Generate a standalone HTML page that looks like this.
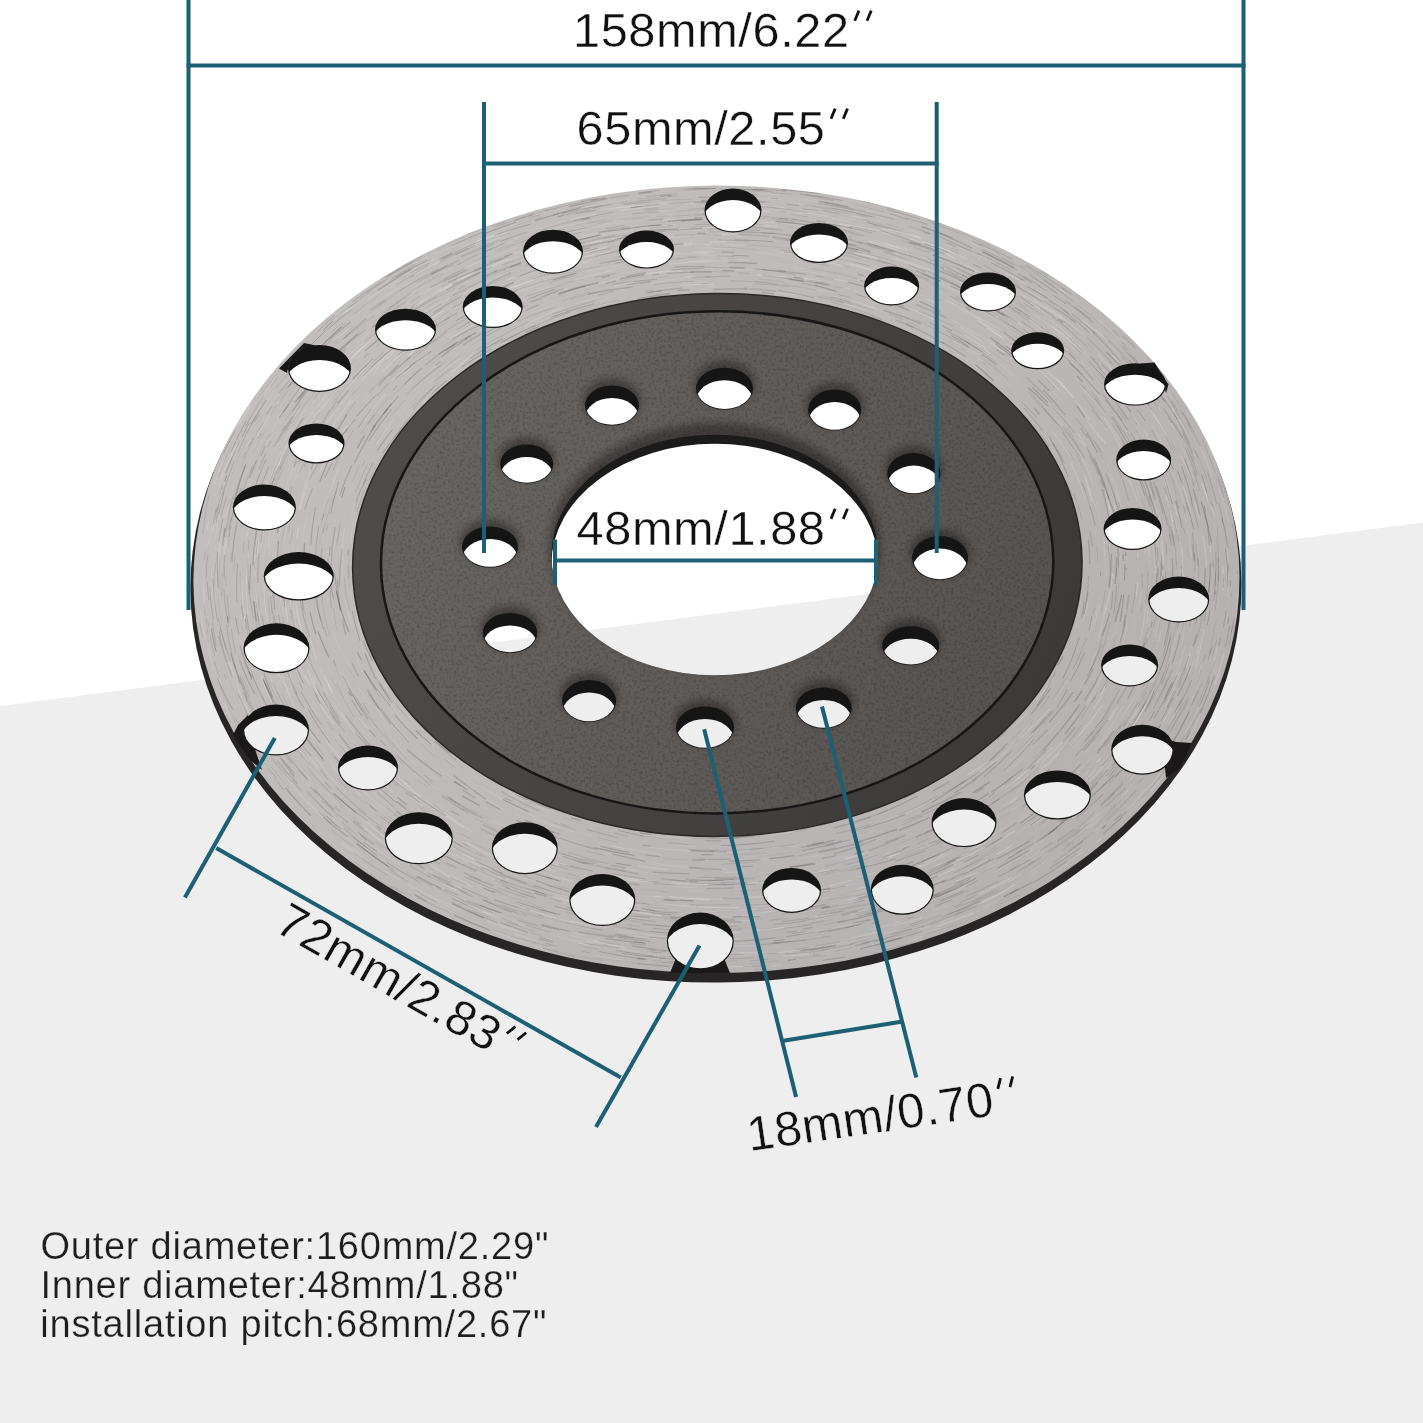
<!DOCTYPE html>
<html><head><meta charset="utf-8"><style>html,body{margin:0;padding:0;background:#fff;overflow:hidden}svg{display:block;will-change:transform}</style></head>
<body><svg width="1423" height="1423" viewBox="0 0 1423 1423">
<defs>
<clipPath id="c0"><ellipse cx="733.00" cy="222.00" rx="31.35" ry="22.00" /></clipPath><clipPath id="c1"><ellipse cx="819.00" cy="254.50" rx="31.90" ry="20.00" /></clipPath><clipPath id="c2"><ellipse cx="646.50" cy="261.10" rx="30.25" ry="19.00" /></clipPath><clipPath id="c3"><ellipse cx="553.00" cy="263.20" rx="33.00" ry="22.00" /></clipPath><clipPath id="c4"><ellipse cx="891.60" cy="297.50" rx="30.25" ry="19.50" /></clipPath><clipPath id="c5"><ellipse cx="988.00" cy="303.50" rx="30.80" ry="19.50" /></clipPath><clipPath id="c6"><ellipse cx="492.70" cy="318.50" rx="33.00" ry="21.00" /></clipPath><clipPath id="c7"><ellipse cx="405.50" cy="341.20" rx="33.55" ry="21.00" /></clipPath><clipPath id="c8"><ellipse cx="319.50" cy="383.50" rx="34.65" ry="23.50" /></clipPath><clipPath id="c9"><ellipse cx="1037.70" cy="362.30" rx="29.15" ry="18.50" /></clipPath><clipPath id="c10"><ellipse cx="1135.00" cy="395.90" rx="34.10" ry="21.20" /></clipPath><clipPath id="c11"><ellipse cx="316.50" cy="455.00" rx="30.80" ry="20.00" /></clipPath><clipPath id="c12"><ellipse cx="1143.70" cy="471.50" rx="30.25" ry="20.50" /></clipPath><clipPath id="c13"><ellipse cx="264.40" cy="519.00" rx="34.65" ry="23.00" /></clipPath><clipPath id="c14"><ellipse cx="1132.60" cy="540.50" rx="31.90" ry="21.00" /></clipPath><clipPath id="c15"><ellipse cx="298.80" cy="587.80" rx="38.50" ry="24.25" /></clipPath><clipPath id="c16"><ellipse cx="1178.70" cy="611.00" rx="33.55" ry="23.00" /></clipPath><clipPath id="c17"><ellipse cx="276.50" cy="659.80" rx="36.30" ry="25.00" /></clipPath><clipPath id="c18"><ellipse cx="1129.60" cy="676.90" rx="31.35" ry="21.00" /></clipPath><clipPath id="c19"><ellipse cx="276.00" cy="741.50" rx="36.30" ry="25.50" /></clipPath><clipPath id="c20"><ellipse cx="1142.50" cy="761.25" rx="34.43" ry="25.00" /></clipPath><clipPath id="c21"><ellipse cx="368.00" cy="779.50" rx="33.00" ry="22.50" /></clipPath><clipPath id="c22"><ellipse cx="1057.40" cy="806.50" rx="36.85" ry="24.50" /></clipPath><clipPath id="c23"><ellipse cx="418.80" cy="849.80" rx="37.40" ry="26.00" /></clipPath><clipPath id="c24"><ellipse cx="964.00" cy="834.10" rx="35.75" ry="24.50" /></clipPath><clipPath id="c25"><ellipse cx="524.80" cy="859.70" rx="36.30" ry="26.00" /></clipPath><clipPath id="c26"><ellipse cx="602.30" cy="911.50" rx="36.30" ry="26.00" /></clipPath><clipPath id="c27"><ellipse cx="791.60" cy="901.90" rx="32.45" ry="22.50" /></clipPath><clipPath id="c28"><ellipse cx="902.30" cy="901.30" rx="34.65" ry="25.00" /></clipPath><clipPath id="c29"><ellipse cx="700.30" cy="952.50" rx="36.85" ry="28.50" /></clipPath><clipPath id="c30"><ellipse cx="724.50" cy="401.20" rx="28.50" ry="21.00" /></clipPath><clipPath id="c31"><ellipse cx="612.00" cy="418.10" rx="27.00" ry="20.00" /></clipPath><clipPath id="c32"><ellipse cx="834.70" cy="422.50" rx="26.50" ry="20.50" /></clipPath><clipPath id="c33"><ellipse cx="526.70" cy="476.50" rx="26.50" ry="19.50" /></clipPath><clipPath id="c34"><ellipse cx="913.80" cy="486.10" rx="26.50" ry="20.50" /></clipPath><clipPath id="c35"><ellipse cx="490.00" cy="559.50" rx="28.00" ry="20.50" /></clipPath><clipPath id="c36"><ellipse cx="940.00" cy="570.50" rx="28.00" ry="22.00" /></clipPath><clipPath id="c37"><ellipse cx="510.00" cy="645.50" rx="27.25" ry="20.00" /></clipPath><clipPath id="c38"><ellipse cx="910.70" cy="658.30" rx="28.50" ry="19.50" /></clipPath><clipPath id="c39"><ellipse cx="589.00" cy="713.50" rx="27.00" ry="21.00" /></clipPath><clipPath id="c40"><ellipse cx="705.00" cy="740.00" rx="29.00" ry="21.00" /></clipPath><clipPath id="c41"><ellipse cx="823.80" cy="720.50" rx="28.00" ry="20.50" /></clipPath><clipPath id="c42"><ellipse cx="714.90" cy="564.00" rx="163.50" ry="120.25" /></clipPath>
<mask id="m" maskUnits="userSpaceOnUse" x="0" y="0" width="1423" height="1423">
<rect width="1423" height="1423" fill="#fff"/>
<ellipse clip-path="url(#c0)" cx="733.00" cy="210.50" rx="27.30" ry="20.80" fill="#000"/><ellipse clip-path="url(#c1)" cx="819.00" cy="243.00" rx="27.80" ry="18.80" fill="#000"/><ellipse clip-path="url(#c2)" cx="646.50" cy="249.60" rx="26.30" ry="17.80" fill="#000"/><ellipse clip-path="url(#c3)" cx="553.00" cy="251.70" rx="28.80" ry="20.80" fill="#000"/><ellipse clip-path="url(#c4)" cx="891.60" cy="286.00" rx="26.30" ry="18.30" fill="#000"/><ellipse clip-path="url(#c5)" cx="988.00" cy="292.00" rx="26.80" ry="18.30" fill="#000"/><ellipse clip-path="url(#c6)" cx="492.70" cy="307.00" rx="28.80" ry="19.80" fill="#000"/><ellipse clip-path="url(#c7)" cx="405.50" cy="329.70" rx="29.30" ry="19.80" fill="#000"/><ellipse clip-path="url(#c8)" cx="319.50" cy="368.50" rx="30.30" ry="22.30" fill="#000"/><ellipse clip-path="url(#c9)" cx="1037.70" cy="350.80" rx="25.30" ry="17.30" fill="#000"/><ellipse clip-path="url(#c10)" cx="1135.00" cy="384.40" rx="29.80" ry="20.00" fill="#000"/><ellipse clip-path="url(#c11)" cx="316.50" cy="443.50" rx="26.80" ry="18.80" fill="#000"/><ellipse clip-path="url(#c12)" cx="1143.70" cy="460.00" rx="26.30" ry="19.30" fill="#000"/><ellipse clip-path="url(#c13)" cx="264.40" cy="507.50" rx="30.30" ry="21.80" fill="#000"/><ellipse clip-path="url(#c14)" cx="1132.60" cy="529.00" rx="27.80" ry="19.80" fill="#000"/><ellipse clip-path="url(#c15)" cx="298.80" cy="576.30" rx="33.80" ry="23.05" fill="#000"/><ellipse clip-path="url(#c16)" cx="1178.70" cy="599.50" rx="29.30" ry="21.80" fill="#000"/><ellipse clip-path="url(#c17)" cx="276.50" cy="648.30" rx="31.80" ry="23.80" fill="#000"/><ellipse clip-path="url(#c18)" cx="1129.60" cy="665.40" rx="27.30" ry="19.80" fill="#000"/><ellipse clip-path="url(#c19)" cx="276.00" cy="730.00" rx="31.80" ry="24.30" fill="#000"/><ellipse clip-path="url(#c20)" cx="1142.50" cy="749.75" rx="30.10" ry="23.80" fill="#000"/><ellipse clip-path="url(#c21)" cx="368.00" cy="768.00" rx="28.80" ry="21.30" fill="#000"/><ellipse clip-path="url(#c22)" cx="1057.40" cy="795.00" rx="32.30" ry="23.30" fill="#000"/><ellipse clip-path="url(#c23)" cx="418.80" cy="838.30" rx="32.80" ry="24.80" fill="#000"/><ellipse clip-path="url(#c24)" cx="964.00" cy="822.60" rx="31.30" ry="23.30" fill="#000"/><ellipse clip-path="url(#c25)" cx="524.80" cy="848.20" rx="31.80" ry="24.80" fill="#000"/><ellipse clip-path="url(#c26)" cx="602.30" cy="900.00" rx="31.80" ry="24.80" fill="#000"/><ellipse clip-path="url(#c27)" cx="791.60" cy="890.40" rx="28.30" ry="21.30" fill="#000"/><ellipse clip-path="url(#c28)" cx="902.30" cy="889.80" rx="30.30" ry="23.80" fill="#000"/><ellipse clip-path="url(#c29)" cx="700.30" cy="941.00" rx="32.30" ry="27.30" fill="#000"/><ellipse clip-path="url(#c30)" cx="724.50" cy="388.70" rx="27.70" ry="20.20" fill="#000"/><ellipse clip-path="url(#c31)" cx="612.00" cy="405.60" rx="26.20" ry="19.20" fill="#000"/><ellipse clip-path="url(#c32)" cx="834.70" cy="410.00" rx="25.70" ry="19.70" fill="#000"/><ellipse clip-path="url(#c33)" cx="526.70" cy="464.00" rx="25.70" ry="18.70" fill="#000"/><ellipse clip-path="url(#c34)" cx="913.80" cy="473.60" rx="25.70" ry="19.70" fill="#000"/><ellipse clip-path="url(#c35)" cx="490.00" cy="547.00" rx="27.20" ry="19.70" fill="#000"/><ellipse clip-path="url(#c36)" cx="940.00" cy="558.00" rx="27.20" ry="21.20" fill="#000"/><ellipse clip-path="url(#c37)" cx="510.00" cy="633.00" rx="26.45" ry="19.20" fill="#000"/><ellipse clip-path="url(#c38)" cx="910.70" cy="645.80" rx="27.70" ry="18.70" fill="#000"/><ellipse clip-path="url(#c39)" cx="589.00" cy="701.00" rx="26.20" ry="20.20" fill="#000"/><ellipse clip-path="url(#c40)" cx="705.00" cy="727.50" rx="28.20" ry="20.20" fill="#000"/><ellipse clip-path="url(#c41)" cx="823.80" cy="708.00" rx="27.20" ry="19.70" fill="#000"/><ellipse clip-path="url(#c42)" cx="714.90" cy="555.00" rx="163.50" ry="120.25" fill="#000"/>
</mask>
<linearGradient id="hubg" gradientUnits="userSpaceOnUse" x1="380" y1="420" x2="1060" y2="720"><stop offset="0" stop-color="#6a6664"/><stop offset="1" stop-color="#555250"/></linearGradient>
<linearGradient id="bandg" gradientUnits="userSpaceOnUse" x1="360" y1="420" x2="1080" y2="720"><stop offset="0" stop-color="#4f4c4b"/><stop offset="1" stop-color="#3b3938"/></linearGradient>
<linearGradient id="surfg" gradientUnits="userSpaceOnUse" x1="250" y1="250" x2="1150" y2="950"><stop offset="0" stop-color="#c3bfbe"/><stop offset="0.5" stop-color="#bdb9b8"/><stop offset="1" stop-color="#b3afae"/></linearGradient>
<clipPath id="surfclip"><ellipse cx="716.43" cy="579.35" rx="523.04" ry="393.75" transform="rotate(-0.38 716.43 579.35)" /></clipPath>
<clipPath id="hubclip"><ellipse cx="717.11" cy="562.36" rx="336.13" ry="251.06" transform="rotate(-0.4 717.11 562.36)" /></clipPath>
<filter id="brush" x="0" y="0" width="100%" height="100%" filterUnits="objectBoundingBox" color-interpolation-filters="sRGB">
<feTurbulence type="fractalNoise" baseFrequency="0.006 0.45" numOctaves="3" seed="7" result="n"/>
<feColorMatrix in="n" type="matrix" values="0 0 0 0 0  0 0 0 0 0  0 0 0 0 0  -3 0 0 0 1.6"/>
</filter>
<filter id="brush2" x="0" y="0" width="100%" height="100%" filterUnits="objectBoundingBox" color-interpolation-filters="sRGB">
<feTurbulence type="fractalNoise" baseFrequency="0.008 0.35" numOctaves="2" seed="11" result="n"/>
<feColorMatrix in="n" type="matrix" values="0 0 0 0 1  0 0 0 0 1  0 0 0 0 1  3 0 0 0 -1.55"/>
</filter>
<filter id="blur4" x="-20%" y="-20%" width="140%" height="140%"><feGaussianBlur stdDeviation="4"/></filter>
<filter id="speck" x="0" y="0" width="100%" height="100%" filterUnits="objectBoundingBox" color-interpolation-filters="sRGB">
<feTurbulence type="fractalNoise" baseFrequency="0.35" numOctaves="2" seed="5" result="n"/>
<feColorMatrix in="n" type="matrix" values="0 0 0 0 0  0 0 0 0 0  0 0 0 0 0  -2.5 0 0 0 1.35"/>
</filter>
</defs>
<rect width="1423" height="1423" fill="#fff"/>
<polygon points="0,706 1423,522.5 1423,1423 0,1423" fill="#eeeeee"/>
<g mask="url(#m)">
<ellipse cx="715.93" cy="586.35" rx="525.54" ry="396.25" transform="rotate(-0.38 715.93 586.35)" fill="#272525"/>
<ellipse cx="716.43" cy="579.35" rx="523.04" ry="393.75" transform="rotate(-0.38 716.43 579.35)" fill="url(#surfg)"/>
<g clip-path="url(#surfclip)">
<ellipse cx="724.77" cy="577.76" rx="437.71" ry="329.51" fill="none" stroke="#fff" stroke-opacity="0.068" stroke-width="1.24" stroke-dasharray="15 127 6 125 36 100 35 88 41 30 45 67 34 124 16 116" stroke-dashoffset="76"/><ellipse cx="732.83" cy="578.88" rx="444.23" ry="334.42" fill="none" stroke="#000" stroke-opacity="0.070" stroke-width="1.05" stroke-dasharray="11 34 9 160 20 53 33 143 13 138 14 110 45 71 9 73" stroke-dashoffset="684"/><ellipse cx="715.63" cy="569.42" rx="458.03" ry="344.81" fill="none" stroke="#000" stroke-opacity="0.106" stroke-width="1.27" stroke-dasharray="7 51 18 96 28 122 30 109 13 94 21 115 29 125 38 158" stroke-dashoffset="33"/><ellipse cx="702.97" cy="569.81" rx="445.15" ry="335.11" fill="none" stroke="#000" stroke-opacity="0.104" stroke-width="0.81" stroke-dasharray="30 82 44 56 41 86 17 49 23 39 33 100 37 118 44 43" stroke-dashoffset="466"/><ellipse cx="739.83" cy="571.11" rx="438.00" ry="329.73" fill="none" stroke="#fff" stroke-opacity="0.198" stroke-width="1.40" stroke-dasharray="16 148 41 123 17 78 20 31 23 117 17 91 6 158 8 93" stroke-dashoffset="515"/><ellipse cx="738.57" cy="580.76" rx="384.19" ry="289.22" fill="none" stroke="#fff" stroke-opacity="0.132" stroke-width="1.13" stroke-dasharray="23 60 20 158 36 155 28 97 34 71 34 104 45 41 23 114" stroke-dashoffset="721"/><ellipse cx="728.31" cy="577.25" rx="490.86" ry="369.52" fill="none" stroke="#000" stroke-opacity="0.071" stroke-width="0.86" stroke-dasharray="7 30 7 63 41 98 32 65 21 81 33 150 9 96 8 136" stroke-dashoffset="203"/><ellipse cx="709.18" cy="568.60" rx="455.39" ry="342.82" fill="none" stroke="#fff" stroke-opacity="0.156" stroke-width="0.99" stroke-dasharray="30 71 7 69 7 39 10 136 40 81 30 55 28 78 25 99" stroke-dashoffset="637"/><ellipse cx="702.37" cy="577.36" rx="460.57" ry="346.72" fill="none" stroke="#000" stroke-opacity="0.119" stroke-width="0.90" stroke-dasharray="31 92 10 134 28 112 11 115 15 53 25 109 17 141 29 75" stroke-dashoffset="183"/><ellipse cx="721.99" cy="564.00" rx="367.77" ry="276.86" fill="none" stroke="#000" stroke-opacity="0.133" stroke-width="1.26" stroke-dasharray="26 54 20 31 29 123 23 81 33 105 20 67 38 115 16 158" stroke-dashoffset="255"/><ellipse cx="731.18" cy="555.33" rx="435.30" ry="327.70" fill="none" stroke="#000" stroke-opacity="0.117" stroke-width="1.22" stroke-dasharray="20 134 40 131 39 142 9 57 41 109 28 34 26 157 29 108" stroke-dashoffset="137"/><ellipse cx="694.40" cy="579.38" rx="400.44" ry="301.45" fill="none" stroke="#000" stroke-opacity="0.152" stroke-width="0.94" stroke-dasharray="24 134 44 102 30 112 15 62 22 38 44 126 32 138 45 97" stroke-dashoffset="409"/><ellipse cx="700.72" cy="587.22" rx="494.64" ry="372.37" fill="none" stroke="#000" stroke-opacity="0.146" stroke-width="0.77" stroke-dasharray="22 58 23 43 28 108 14 109 19 36 41 108 8 33 16 80" stroke-dashoffset="194"/><ellipse cx="730.11" cy="580.97" rx="522.56" ry="393.39" fill="none" stroke="#000" stroke-opacity="0.161" stroke-width="1.27" stroke-dasharray="7 56 29 157 40 81 34 55 39 31 14 130 38 154 24 149" stroke-dashoffset="529"/><ellipse cx="734.56" cy="547.87" rx="363.00" ry="273.27" fill="none" stroke="#fff" stroke-opacity="0.177" stroke-width="1.34" stroke-dasharray="15 155 29 56 33 133 44 125 10 63 28 45 20 57 33 51" stroke-dashoffset="31"/><ellipse cx="726.49" cy="570.56" rx="377.22" ry="283.98" fill="none" stroke="#000" stroke-opacity="0.075" stroke-width="0.94" stroke-dasharray="7 88 43 151 19 147 27 138 40 110 21 130 11 116 9 122" stroke-dashoffset="139"/><ellipse cx="692.35" cy="564.89" rx="470.27" ry="354.03" fill="none" stroke="#000" stroke-opacity="0.128" stroke-width="1.25" stroke-dasharray="36 141 27 133 26 116 44 127 37 117 18 122 10 89 27 128" stroke-dashoffset="682"/><ellipse cx="728.71" cy="569.95" rx="517.67" ry="389.71" fill="none" stroke="#fff" stroke-opacity="0.144" stroke-width="0.56" stroke-dasharray="32 56 13 156 17 122 41 69 44 100 30 115 25 125 28 114" stroke-dashoffset="639"/><ellipse cx="702.22" cy="564.26" rx="425.19" ry="320.09" fill="none" stroke="#fff" stroke-opacity="0.199" stroke-width="1.11" stroke-dasharray="29 119 15 105 27 115 31 40 39 114 40 48 39 55 22 71" stroke-dashoffset="175"/><ellipse cx="703.03" cy="560.92" rx="491.03" ry="369.65" fill="none" stroke="#000" stroke-opacity="0.093" stroke-width="1.31" stroke-dasharray="20 78 18 100 13 84 43 76 36 109 35 63 36 130 34 149" stroke-dashoffset="201"/><ellipse cx="718.42" cy="576.42" rx="398.32" ry="299.86" fill="none" stroke="#000" stroke-opacity="0.111" stroke-width="1.25" stroke-dasharray="38 116 28 132 25 64 7 49 24 129 24 153 15 137 42 110" stroke-dashoffset="145"/><ellipse cx="698.13" cy="558.52" rx="366.72" ry="276.07" fill="none" stroke="#fff" stroke-opacity="0.078" stroke-width="0.69" stroke-dasharray="16 83 13 127 38 155 25 53 18 67 20 127 39 95 39 123" stroke-dashoffset="564"/><ellipse cx="704.19" cy="549.55" rx="376.41" ry="283.37" fill="none" stroke="#000" stroke-opacity="0.170" stroke-width="0.97" stroke-dasharray="40 143 12 155 45 77 42 44 33 107 7 156 30 121 31 51" stroke-dashoffset="575"/><ellipse cx="740.18" cy="585.71" rx="490.27" ry="369.08" fill="none" stroke="#000" stroke-opacity="0.153" stroke-width="1.11" stroke-dasharray="31 32 38 125 32 66 7 115 10 100 25 86 25 134 23 130" stroke-dashoffset="293"/><ellipse cx="709.90" cy="566.70" rx="467.10" ry="351.64" fill="none" stroke="#000" stroke-opacity="0.077" stroke-width="0.91" stroke-dasharray="11 61 8 59 15 46 44 68 14 158 40 72 17 120 20 133" stroke-dashoffset="466"/><ellipse cx="729.27" cy="586.80" rx="475.63" ry="358.06" fill="none" stroke="#000" stroke-opacity="0.096" stroke-width="1.28" stroke-dasharray="6 103 33 141 19 73 7 120 28 104 12 155 29 136 28 113" stroke-dashoffset="636"/><ellipse cx="736.67" cy="572.15" rx="523.52" ry="394.11" fill="none" stroke="#000" stroke-opacity="0.169" stroke-width="0.78" stroke-dasharray="41 110 14 44 26 91 40 82 13 52 10 74 33 117 23 41" stroke-dashoffset="52"/><ellipse cx="741.13" cy="567.45" rx="463.96" ry="349.28" fill="none" stroke="#000" stroke-opacity="0.146" stroke-width="1.39" stroke-dasharray="36 82 20 47 12 152 37 71 38 81 35 129 27 78 14 73" stroke-dashoffset="117"/><ellipse cx="712.72" cy="556.04" rx="392.04" ry="295.13" fill="none" stroke="#fff" stroke-opacity="0.148" stroke-width="1.10" stroke-dasharray="45 48 26 150 34 53 33 130 18 73 42 75 42 66 11 72" stroke-dashoffset="44"/><ellipse cx="728.64" cy="567.63" rx="397.31" ry="299.10" fill="none" stroke="#000" stroke-opacity="0.126" stroke-width="1.32" stroke-dasharray="14 70 11 147 44 88 15 156 15 100 39 93 39 96 22 50" stroke-dashoffset="558"/><ellipse cx="725.01" cy="575.13" rx="505.29" ry="380.39" fill="none" stroke="#fff" stroke-opacity="0.072" stroke-width="1.09" stroke-dasharray="8 145 39 62 18 141 41 76 9 34 6 61 40 66 31 106" stroke-dashoffset="725"/><ellipse cx="718.36" cy="562.36" rx="498.87" ry="375.56" fill="none" stroke="#fff" stroke-opacity="0.077" stroke-width="1.09" stroke-dasharray="17 105 10 71 31 36 27 32 15 57 11 32 23 124 22 107" stroke-dashoffset="173"/><ellipse cx="731.79" cy="556.71" rx="431.70" ry="324.99" fill="none" stroke="#000" stroke-opacity="0.108" stroke-width="0.64" stroke-dasharray="33 134 29 101 29 57 12 113 23 88 26 95 36 152 27 31" stroke-dashoffset="448"/><ellipse cx="725.45" cy="591.65" rx="514.40" ry="387.24" fill="none" stroke="#000" stroke-opacity="0.098" stroke-width="1.14" stroke-dasharray="31 128 10 53 16 144 16 144 25 106 21 42 6 80 26 156" stroke-dashoffset="178"/><ellipse cx="731.66" cy="575.31" rx="512.56" ry="385.86" fill="none" stroke="#000" stroke-opacity="0.083" stroke-width="0.87" stroke-dasharray="11 114 30 31 26 148 23 120 10 109 27 117 7 57 27 138" stroke-dashoffset="211"/><ellipse cx="727.39" cy="595.90" rx="513.60" ry="386.65" fill="none" stroke="#000" stroke-opacity="0.070" stroke-width="1.18" stroke-dasharray="6 88 24 57 9 66 7 124 40 52 29 83 17 141 45 60" stroke-dashoffset="360"/><ellipse cx="700.81" cy="581.77" rx="498.78" ry="375.48" fill="none" stroke="#fff" stroke-opacity="0.159" stroke-width="1.36" stroke-dasharray="37 116 33 55 17 68 25 143 13 45 7 151 9 43 38 91" stroke-dashoffset="169"/><ellipse cx="723.21" cy="585.93" rx="449.73" ry="338.56" fill="none" stroke="#000" stroke-opacity="0.109" stroke-width="1.07" stroke-dasharray="27 61 8 154 12 45 36 138 43 109 39 153 37 139 43 92" stroke-dashoffset="600"/><ellipse cx="715.60" cy="581.81" rx="359.54" ry="270.67" fill="none" stroke="#fff" stroke-opacity="0.083" stroke-width="1.32" stroke-dasharray="16 89 36 101 39 48 19 67 17 35 16 156 41 139 20 135" stroke-dashoffset="353"/><ellipse cx="719.00" cy="571.63" rx="509.73" ry="383.73" fill="none" stroke="#000" stroke-opacity="0.139" stroke-width="0.97" stroke-dasharray="17 142 17 35 40 56 21 95 32 102 34 116 35 141 10 31" stroke-dashoffset="120"/><ellipse cx="718.91" cy="559.90" rx="447.99" ry="337.25" fill="none" stroke="#fff" stroke-opacity="0.075" stroke-width="1.10" stroke-dasharray="18 45 7 61 33 128 34 37 45 144 30 41 17 119 9 81" stroke-dashoffset="653"/><ellipse cx="710.71" cy="561.66" rx="450.45" ry="339.11" fill="none" stroke="#000" stroke-opacity="0.151" stroke-width="0.84" stroke-dasharray="31 83 26 92 12 70 19 155 44 146 18 70 13 45 11 67" stroke-dashoffset="125"/><ellipse cx="721.83" cy="574.02" rx="442.77" ry="333.33" fill="none" stroke="#fff" stroke-opacity="0.174" stroke-width="0.58" stroke-dasharray="45 140 9 86 15 98 36 144 13 114 24 30 19 91 38 137" stroke-dashoffset="415"/><ellipse cx="717.27" cy="582.73" rx="501.48" ry="377.52" fill="none" stroke="#000" stroke-opacity="0.158" stroke-width="0.84" stroke-dasharray="25 89 15 41 6 144 44 152 8 118 12 32 17 101 43 155" stroke-dashoffset="576"/><ellipse cx="693.57" cy="589.43" rx="457.73" ry="344.58" fill="none" stroke="#fff" stroke-opacity="0.092" stroke-width="1.21" stroke-dasharray="35 122 26 131 20 137 26 59 20 105 36 64 31 106 15 46" stroke-dashoffset="763"/><ellipse cx="735.33" cy="563.91" rx="382.18" ry="287.71" fill="none" stroke="#000" stroke-opacity="0.095" stroke-width="1.28" stroke-dasharray="25 58 43 54 23 141 36 66 21 112 32 81 33 74 17 93" stroke-dashoffset="262"/><ellipse cx="705.36" cy="585.50" rx="441.08" ry="332.05" fill="none" stroke="#fff" stroke-opacity="0.144" stroke-width="1.23" stroke-dasharray="39 80 39 88 18 113 6 32 42 159 13 147 35 74 29 151" stroke-dashoffset="756"/><ellipse cx="719.37" cy="553.46" rx="378.25" ry="284.75" fill="none" stroke="#fff" stroke-opacity="0.099" stroke-width="0.52" stroke-dasharray="38 139 31 136 37 124 26 123 35 108 45 119 45 33 35 74" stroke-dashoffset="546"/><ellipse cx="698.39" cy="577.67" rx="444.10" ry="334.32" fill="none" stroke="#fff" stroke-opacity="0.175" stroke-width="1.28" stroke-dasharray="29 71 15 111 11 159 42 140 20 65 25 100 38 134 6 52" stroke-dashoffset="436"/><ellipse cx="716.61" cy="583.42" rx="472.19" ry="355.47" fill="none" stroke="#fff" stroke-opacity="0.120" stroke-width="0.99" stroke-dasharray="19 126 36 101 34 120 45 86 39 57 43 112 41 51 16 144" stroke-dashoffset="524"/><ellipse cx="717.01" cy="563.95" rx="380.66" ry="286.57" fill="none" stroke="#000" stroke-opacity="0.071" stroke-width="0.96" stroke-dasharray="30 87 21 88 41 149 25 134 22 61 31 129 27 38 19 50" stroke-dashoffset="699"/><ellipse cx="717.70" cy="579.10" rx="396.46" ry="298.46" fill="none" stroke="#000" stroke-opacity="0.121" stroke-width="0.78" stroke-dasharray="8 153 45 88 41 101 41 35 23 31 33 122 42 78 38 32" stroke-dashoffset="677"/><ellipse cx="739.31" cy="586.70" rx="492.70" ry="370.91" fill="none" stroke="#fff" stroke-opacity="0.198" stroke-width="1.31" stroke-dasharray="32 146 37 35 44 147 33 94 30 68 7 142 40 125 31 159" stroke-dashoffset="373"/><ellipse cx="723.07" cy="578.24" rx="449.92" ry="338.70" fill="none" stroke="#000" stroke-opacity="0.152" stroke-width="1.02" stroke-dasharray="38 63 41 33 29 85 9 96 39 106 20 57 44 101 16 33" stroke-dashoffset="136"/><ellipse cx="711.13" cy="553.26" rx="400.40" ry="301.42" fill="none" stroke="#000" stroke-opacity="0.153" stroke-width="1.19" stroke-dasharray="29 94 12 160 20 94 44 148 38 48 38 138 29 73 26 129" stroke-dashoffset="691"/><ellipse cx="718.26" cy="572.71" rx="476.84" ry="358.97" fill="none" stroke="#000" stroke-opacity="0.108" stroke-width="1.08" stroke-dasharray="24 58 6 121 42 55 28 109 22 43 24 88 41 117 41 106" stroke-dashoffset="665"/><ellipse cx="704.74" cy="571.90" rx="416.27" ry="313.37" fill="none" stroke="#fff" stroke-opacity="0.165" stroke-width="0.93" stroke-dasharray="37 57 11 31 27 149 8 46 38 144 6 111 18 114 42 46" stroke-dashoffset="162"/><ellipse cx="734.56" cy="570.58" rx="433.86" ry="326.62" fill="none" stroke="#fff" stroke-opacity="0.092" stroke-width="1.21" stroke-dasharray="30 114 17 141 7 73 44 58 20 48 29 127 9 53 25 146" stroke-dashoffset="266"/><ellipse cx="704.94" cy="585.03" rx="434.21" ry="326.88" fill="none" stroke="#000" stroke-opacity="0.123" stroke-width="0.59" stroke-dasharray="9 76 24 54 18 95 38 109 15 79 28 86 42 92 29 43" stroke-dashoffset="686"/><ellipse cx="697.28" cy="577.38" rx="502.51" ry="378.30" fill="none" stroke="#fff" stroke-opacity="0.105" stroke-width="0.81" stroke-dasharray="38 152 22 112 37 158 22 89 39 97 21 56 10 84 39 77" stroke-dashoffset="4"/><ellipse cx="721.45" cy="553.70" rx="423.29" ry="318.66" fill="none" stroke="#fff" stroke-opacity="0.136" stroke-width="1.37" stroke-dasharray="29 81 34 99 31 65 14 152 35 77 43 75 26 109 12 58" stroke-dashoffset="300"/><ellipse cx="719.83" cy="568.62" rx="462.80" ry="348.40" fill="none" stroke="#fff" stroke-opacity="0.184" stroke-width="1.21" stroke-dasharray="12 34 17 115 28 105 45 103 42 82 18 71 33 108 13 67" stroke-dashoffset="184"/><ellipse cx="720.38" cy="592.40" rx="517.02" ry="389.22" fill="none" stroke="#fff" stroke-opacity="0.116" stroke-width="1.21" stroke-dasharray="38 129 35 130 14 152 15 33 26 37 41 65 9 125 19 106" stroke-dashoffset="169"/><ellipse cx="717.58" cy="573.92" rx="401.77" ry="302.45" fill="none" stroke="#000" stroke-opacity="0.082" stroke-width="0.66" stroke-dasharray="24 57 6 106 16 55 25 59 37 129 25 66 23 48 38 108" stroke-dashoffset="339"/><ellipse cx="704.03" cy="578.07" rx="374.67" ry="282.06" fill="none" stroke="#000" stroke-opacity="0.075" stroke-width="0.54" stroke-dasharray="37 64 29 68 9 152 39 95 44 61 20 128 16 60 9 71" stroke-dashoffset="472"/><ellipse cx="719.26" cy="563.26" rx="391.02" ry="294.37" fill="none" stroke="#fff" stroke-opacity="0.155" stroke-width="0.70" stroke-dasharray="13 77 15 119 27 82 7 47 40 74 28 125 32 95 16 68" stroke-dashoffset="453"/><ellipse cx="699.35" cy="593.28" rx="494.80" ry="372.49" fill="none" stroke="#000" stroke-opacity="0.074" stroke-width="0.65" stroke-dasharray="11 119 45 43 40 33 26 158 37 47 40 126 14 53 22 97" stroke-dashoffset="721"/><ellipse cx="722.70" cy="574.04" rx="407.01" ry="306.40" fill="none" stroke="#000" stroke-opacity="0.109" stroke-width="1.32" stroke-dasharray="34 68 7 100 12 71 39 47 33 148 32 75 8 30 19 85" stroke-dashoffset="538"/><ellipse cx="736.46" cy="561.77" rx="421.31" ry="317.17" fill="none" stroke="#000" stroke-opacity="0.091" stroke-width="1.20" stroke-dasharray="45 42 17 35 43 41 40 108 42 153 11 67 41 63 10 160" stroke-dashoffset="577"/><ellipse cx="722.32" cy="590.97" rx="500.51" ry="376.79" fill="none" stroke="#fff" stroke-opacity="0.158" stroke-width="1.15" stroke-dasharray="30 59 24 84 33 104 27 90 29 152 15 130 9 75 10 63" stroke-dashoffset="143"/><ellipse cx="718.38" cy="571.60" rx="370.16" ry="278.66" fill="none" stroke="#000" stroke-opacity="0.084" stroke-width="1.14" stroke-dasharray="45 31 32 120 10 119 14 82 25 103 15 53 27 56 45 107" stroke-dashoffset="449"/><ellipse cx="715.51" cy="566.93" rx="422.56" ry="318.11" fill="none" stroke="#fff" stroke-opacity="0.174" stroke-width="1.32" stroke-dasharray="36 103 6 123 15 106 15 40 43 92 27 48 8 80 39 119" stroke-dashoffset="253"/><ellipse cx="703.12" cy="560.01" rx="404.24" ry="304.32" fill="none" stroke="#000" stroke-opacity="0.127" stroke-width="0.68" stroke-dasharray="25 79 23 160 23 141 22 117 22 70 39 42 35 117 18 100" stroke-dashoffset="257"/><ellipse cx="710.27" cy="562.65" rx="366.69" ry="276.05" fill="none" stroke="#000" stroke-opacity="0.174" stroke-width="0.53" stroke-dasharray="39 78 33 86 30 160 26 154 8 91 32 57 45 160 10 156" stroke-dashoffset="315"/><ellipse cx="720.02" cy="575.48" rx="402.59" ry="303.07" fill="none" stroke="#000" stroke-opacity="0.068" stroke-width="0.56" stroke-dasharray="6 83 44 91 9 154 12 112 27 159 29 98 34 68 27 62" stroke-dashoffset="586"/><ellipse cx="710.02" cy="567.52" rx="503.06" ry="378.71" fill="none" stroke="#000" stroke-opacity="0.134" stroke-width="1.02" stroke-dasharray="16 88 31 36 21 120 18 134 34 126 13 65 29 87 15 78" stroke-dashoffset="775"/><ellipse cx="700.93" cy="582.77" rx="497.60" ry="374.60" fill="none" stroke="#000" stroke-opacity="0.175" stroke-width="0.53" stroke-dasharray="21 59 15 155 22 150 12 44 29 60 18 102 9 80 18 82" stroke-dashoffset="164"/><ellipse cx="709.90" cy="587.16" rx="518.09" ry="390.03" fill="none" stroke="#000" stroke-opacity="0.159" stroke-width="1.00" stroke-dasharray="39 46 36 143 41 96 36 98 41 54 7 137 16 135 26 140" stroke-dashoffset="445"/><ellipse cx="730.22" cy="571.01" rx="447.24" ry="336.69" fill="none" stroke="#fff" stroke-opacity="0.187" stroke-width="1.24" stroke-dasharray="8 102 43 89 40 95 12 56 44 76 7 57 12 66 40 91" stroke-dashoffset="97"/><ellipse cx="735.87" cy="566.83" rx="488.06" ry="367.42" fill="none" stroke="#000" stroke-opacity="0.110" stroke-width="1.03" stroke-dasharray="22 132 11 59 9 159 28 91 37 133 6 71 11 69 33 84" stroke-dashoffset="144"/><ellipse cx="695.61" cy="560.39" rx="431.30" ry="324.69" fill="none" stroke="#fff" stroke-opacity="0.082" stroke-width="0.61" stroke-dasharray="19 35 22 66 44 52 25 131 18 66 36 156 30 153 17 136" stroke-dashoffset="647"/><ellipse cx="708.73" cy="580.99" rx="397.44" ry="299.20" fill="none" stroke="#fff" stroke-opacity="0.100" stroke-width="0.97" stroke-dasharray="22 139 10 57 34 97 38 40 13 115 15 158 17 132 26 158" stroke-dashoffset="336"/><ellipse cx="734.75" cy="579.83" rx="373.50" ry="281.17" fill="none" stroke="#fff" stroke-opacity="0.137" stroke-width="0.94" stroke-dasharray="42 105 28 35 26 149 13 116 21 142 20 159 9 64 24 82" stroke-dashoffset="312"/><ellipse cx="727.41" cy="593.70" rx="511.63" ry="385.16" fill="none" stroke="#fff" stroke-opacity="0.095" stroke-width="0.80" stroke-dasharray="44 72 31 136 12 48 19 100 26 103 36 153 27 137 16 88" stroke-dashoffset="695"/><ellipse cx="710.57" cy="562.40" rx="362.63" ry="272.99" fill="none" stroke="#000" stroke-opacity="0.167" stroke-width="1.08" stroke-dasharray="45 84 12 73 12 83 22 160 22 88 6 67 24 144 38 53" stroke-dashoffset="524"/><ellipse cx="693.58" cy="571.76" rx="523.85" ry="394.36" fill="none" stroke="#000" stroke-opacity="0.062" stroke-width="1.10" stroke-dasharray="20 56 30 74 37 33 35 103 45 109 33 141 28 35 42 32" stroke-dashoffset="289"/><ellipse cx="729.28" cy="574.25" rx="505.26" ry="380.36" fill="none" stroke="#000" stroke-opacity="0.101" stroke-width="1.32" stroke-dasharray="20 57 9 44 37 151 22 56 36 56 13 65 19 152 22 122" stroke-dashoffset="685"/><ellipse cx="698.96" cy="563.97" rx="439.61" ry="330.94" fill="none" stroke="#fff" stroke-opacity="0.072" stroke-width="0.78" stroke-dasharray="30 101 10 71 8 53 6 157 11 80 17 157 36 32 24 81" stroke-dashoffset="1"/><ellipse cx="705.40" cy="589.21" rx="499.17" ry="375.78" fill="none" stroke="#fff" stroke-opacity="0.088" stroke-width="0.71" stroke-dasharray="11 85 6 54 23 53 10 106 27 56 7 115 18 72 9 63" stroke-dashoffset="672"/><ellipse cx="737.53" cy="572.22" rx="363.08" ry="273.33" fill="none" stroke="#000" stroke-opacity="0.162" stroke-width="0.91" stroke-dasharray="26 123 8 82 23 104 20 78 33 43 22 151 43 131 14 78" stroke-dashoffset="382"/><ellipse cx="716.05" cy="562.87" rx="502.91" ry="378.60" fill="none" stroke="#000" stroke-opacity="0.085" stroke-width="1.03" stroke-dasharray="13 60 11 75 44 98 42 73 8 99 22 46 33 97 17 129" stroke-dashoffset="155"/><ellipse cx="704.67" cy="560.04" rx="479.59" ry="361.04" fill="none" stroke="#000" stroke-opacity="0.099" stroke-width="0.80" stroke-dasharray="25 95 19 73 10 111 34 91 9 59 32 132 14 154 31 53" stroke-dashoffset="796"/><ellipse cx="708.70" cy="562.12" rx="428.17" ry="322.33" fill="none" stroke="#000" stroke-opacity="0.144" stroke-width="0.77" stroke-dasharray="12 126 38 99 21 59 22 31 21 108 31 64 20 126 30 74" stroke-dashoffset="515"/><ellipse cx="712.69" cy="581.91" rx="448.42" ry="337.58" fill="none" stroke="#fff" stroke-opacity="0.123" stroke-width="0.90" stroke-dasharray="27 131 24 105 15 54 40 89 13 46 28 84 40 32 14 95" stroke-dashoffset="365"/><ellipse cx="698.63" cy="587.11" rx="475.98" ry="358.32" fill="none" stroke="#000" stroke-opacity="0.178" stroke-width="1.01" stroke-dasharray="39 47 18 107 27 159 23 85 32 124 44 80 17 61 11 130" stroke-dashoffset="291"/><ellipse cx="715.00" cy="583.89" rx="474.26" ry="357.03" fill="none" stroke="#000" stroke-opacity="0.062" stroke-width="0.75" stroke-dasharray="9 157 26 134 26 75 29 52 12 121 25 159 18 67 9 124" stroke-dashoffset="408"/><ellipse cx="737.69" cy="565.36" rx="451.15" ry="339.63" fill="none" stroke="#000" stroke-opacity="0.078" stroke-width="1.02" stroke-dasharray="24 125 13 104 35 46 24 158 16 160 13 43 24 116 36 136" stroke-dashoffset="321"/><ellipse cx="700.57" cy="588.44" rx="476.94" ry="359.05" fill="none" stroke="#000" stroke-opacity="0.092" stroke-width="1.36" stroke-dasharray="20 114 16 94 22 91 19 103 36 144 44 88 12 93 8 94" stroke-dashoffset="418"/><ellipse cx="696.18" cy="555.64" rx="406.67" ry="306.15" fill="none" stroke="#fff" stroke-opacity="0.109" stroke-width="0.82" stroke-dasharray="28 36 23 74 18 71 29 82 31 129 6 58 44 135 42 46" stroke-dashoffset="722"/><ellipse cx="718.15" cy="577.65" rx="463.14" ry="348.66" fill="none" stroke="#000" stroke-opacity="0.101" stroke-width="1.09" stroke-dasharray="16 40 24 101 20 148 7 32 32 104 40 79 17 125 24 57" stroke-dashoffset="428"/><ellipse cx="696.98" cy="579.12" rx="508.48" ry="382.79" fill="none" stroke="#000" stroke-opacity="0.077" stroke-width="0.86" stroke-dasharray="9 150 12 144 13 97 23 78 20 56 39 37 19 114 11 64" stroke-dashoffset="148"/><ellipse cx="736.48" cy="569.23" rx="416.43" ry="313.49" fill="none" stroke="#000" stroke-opacity="0.085" stroke-width="0.69" stroke-dasharray="41 96 12 105 22 144 9 47 30 99 39 65 8 101 45 73" stroke-dashoffset="458"/><ellipse cx="730.14" cy="592.49" rx="501.08" ry="377.22" fill="none" stroke="#000" stroke-opacity="0.099" stroke-width="1.02" stroke-dasharray="34 82 11 156 18 67 15 45 13 130 26 69 7 112 7 84" stroke-dashoffset="123"/><ellipse cx="739.01" cy="556.51" rx="388.33" ry="292.34" fill="none" stroke="#fff" stroke-opacity="0.102" stroke-width="0.95" stroke-dasharray="21 139 42 105 42 148 32 112 35 88 42 77 29 141 21 90" stroke-dashoffset="583"/><ellipse cx="740.15" cy="551.39" rx="373.74" ry="281.36" fill="none" stroke="#fff" stroke-opacity="0.190" stroke-width="1.34" stroke-dasharray="20 103 8 80 25 50 10 97 27 151 41 111 43 35 28 157" stroke-dashoffset="549"/><ellipse cx="703.77" cy="596.75" rx="520.32" ry="391.70" fill="none" stroke="#fff" stroke-opacity="0.147" stroke-width="1.32" stroke-dasharray="28 146 42 139 30 114 31 70 32 88 24 119 16 70 7 112" stroke-dashoffset="236"/><ellipse cx="728.09" cy="570.73" rx="514.49" ry="387.32" fill="none" stroke="#fff" stroke-opacity="0.087" stroke-width="1.30" stroke-dasharray="33 59 21 46 16 80 34 44 15 84 23 139 28 115 13 113" stroke-dashoffset="4"/><ellipse cx="729.35" cy="583.78" rx="399.24" ry="300.55" fill="none" stroke="#000" stroke-opacity="0.137" stroke-width="0.84" stroke-dasharray="36 112 6 107 20 115 45 107 7 47 34 50 13 116 13 101" stroke-dashoffset="778"/><ellipse cx="705.78" cy="590.01" rx="521.42" ry="392.53" fill="none" stroke="#fff" stroke-opacity="0.117" stroke-width="0.72" stroke-dasharray="19 43 34 31 16 148 18 44 34 42 26 66 32 134 9 139" stroke-dashoffset="609"/><ellipse cx="740.74" cy="590.85" rx="483.71" ry="364.14" fill="none" stroke="#fff" stroke-opacity="0.114" stroke-width="1.38" stroke-dasharray="34 106 14 84 13 67 19 119 39 65 37 49 16 132 37 99" stroke-dashoffset="342"/><ellipse cx="722.00" cy="578.42" rx="454.64" ry="342.26" fill="none" stroke="#000" stroke-opacity="0.063" stroke-width="1.18" stroke-dasharray="23 139 45 116 7 95 32 99 40 145 42 156 18 160 17 147" stroke-dashoffset="66"/><ellipse cx="700.20" cy="569.72" rx="429.11" ry="323.04" fill="none" stroke="#000" stroke-opacity="0.114" stroke-width="0.59" stroke-dasharray="44 133 40 132 31 77 24 101 39 133 21 72 40 44 19 57" stroke-dashoffset="221"/><ellipse cx="697.31" cy="587.06" rx="423.73" ry="318.99" fill="none" stroke="#fff" stroke-opacity="0.173" stroke-width="0.64" stroke-dasharray="11 156 26 143 7 38 37 64 22 149 24 43 34 103 33 48" stroke-dashoffset="678"/><ellipse cx="709.72" cy="572.74" rx="454.66" ry="342.28" fill="none" stroke="#fff" stroke-opacity="0.092" stroke-width="1.13" stroke-dasharray="40 128 33 51 11 49 43 64 6 74 26 103 26 140 17 146" stroke-dashoffset="235"/><ellipse cx="736.74" cy="569.98" rx="519.82" ry="391.33" fill="none" stroke="#000" stroke-opacity="0.109" stroke-width="0.54" stroke-dasharray="31 68 10 119 42 77 27 126 38 102 27 143 32 109 10 85" stroke-dashoffset="11"/><ellipse cx="707.81" cy="562.61" rx="469.56" ry="353.49" fill="none" stroke="#fff" stroke-opacity="0.191" stroke-width="0.65" stroke-dasharray="37 71 30 36 27 127 22 70 12 64 13 117 35 90 17 155" stroke-dashoffset="599"/><ellipse cx="720.62" cy="570.74" rx="497.48" ry="374.51" fill="none" stroke="#000" stroke-opacity="0.093" stroke-width="1.35" stroke-dasharray="31 95 6 58 45 106 7 40 37 135 39 57 36 141 25 157" stroke-dashoffset="256"/><ellipse cx="715.47" cy="567.15" rx="460.74" ry="346.85" fill="none" stroke="#fff" stroke-opacity="0.181" stroke-width="0.94" stroke-dasharray="32 48 31 72 24 128 31 115 27 31 39 54 19 75 26 104" stroke-dashoffset="630"/><ellipse cx="693.26" cy="578.54" rx="392.14" ry="295.21" fill="none" stroke="#000" stroke-opacity="0.136" stroke-width="1.14" stroke-dasharray="11 126 17 153 37 125 45 146 37 60 11 132 10 101 41 114" stroke-dashoffset="114"/><ellipse cx="710.60" cy="576.57" rx="453.23" ry="341.20" fill="none" stroke="#000" stroke-opacity="0.088" stroke-width="0.89" stroke-dasharray="28 116 42 33 7 47 13 146 14 99 36 155 36 107 25 111" stroke-dashoffset="229"/><ellipse cx="710.88" cy="594.37" rx="513.39" ry="386.49" fill="none" stroke="#fff" stroke-opacity="0.107" stroke-width="0.56" stroke-dasharray="32 95 32 100 26 122 45 93 27 125 26 58 32 149 38 44" stroke-dashoffset="58"/><ellipse cx="723.48" cy="572.94" rx="505.10" ry="380.24" fill="none" stroke="#fff" stroke-opacity="0.185" stroke-width="0.79" stroke-dasharray="8 145 7 55 32 69 22 90 45 131 21 59 8 145 12 72" stroke-dashoffset="314"/><ellipse cx="709.43" cy="574.50" rx="360.39" ry="271.30" fill="none" stroke="#000" stroke-opacity="0.175" stroke-width="0.95" stroke-dasharray="34 141 6 109 45 106 42 141 6 81 7 149 23 47 31 122" stroke-dashoffset="8"/><ellipse cx="738.97" cy="588.01" rx="517.80" ry="389.81" fill="none" stroke="#fff" stroke-opacity="0.186" stroke-width="0.67" stroke-dasharray="45 84 36 111 8 145 6 102 32 102 42 57 41 56 22 62" stroke-dashoffset="707"/><ellipse cx="728.65" cy="579.84" rx="489.91" ry="368.81" fill="none" stroke="#fff" stroke-opacity="0.062" stroke-width="0.63" stroke-dasharray="32 37 11 42 7 52 10 119 39 33 33 91 33 55 25 71" stroke-dashoffset="674"/><ellipse cx="741.50" cy="583.05" rx="499.38" ry="375.94" fill="none" stroke="#fff" stroke-opacity="0.067" stroke-width="1.34" stroke-dasharray="31 37 17 140 21 78 45 126 7 41 19 145 37 117 28 44" stroke-dashoffset="669"/><ellipse cx="697.13" cy="578.52" rx="498.64" ry="375.38" fill="none" stroke="#fff" stroke-opacity="0.177" stroke-width="0.96" stroke-dasharray="38 32 18 138 30 133 31 127 25 81 21 31 8 50 21 50" stroke-dashoffset="739"/><ellipse cx="704.20" cy="582.69" rx="477.21" ry="359.25" fill="none" stroke="#000" stroke-opacity="0.132" stroke-width="0.83" stroke-dasharray="29 141 37 92 16 33 14 34 23 94 13 60 6 142 25 104" stroke-dashoffset="314"/><ellipse cx="694.23" cy="573.13" rx="462.39" ry="348.09" fill="none" stroke="#000" stroke-opacity="0.133" stroke-width="1.25" stroke-dasharray="19 125 39 86 41 137 32 36 6 155 45 41 18 55 40 46" stroke-dashoffset="466"/><ellipse cx="706.36" cy="580.81" rx="375.13" ry="282.41" fill="none" stroke="#fff" stroke-opacity="0.192" stroke-width="0.55" stroke-dasharray="6 36 9 108 18 107 11 51 29 133 30 73 30 107 43 97" stroke-dashoffset="593"/><ellipse cx="722.25" cy="571.89" rx="447.51" ry="336.89" fill="none" stroke="#000" stroke-opacity="0.161" stroke-width="0.81" stroke-dasharray="33 114 38 133 34 119 6 116 22 127 8 44 27 82 33 69" stroke-dashoffset="631"/><ellipse cx="734.48" cy="578.49" rx="392.28" ry="295.31" fill="none" stroke="#fff" stroke-opacity="0.141" stroke-width="0.63" stroke-dasharray="6 141 27 130 35 155 11 78 28 88 32 66 15 160 19 97" stroke-dashoffset="92"/><ellipse cx="712.36" cy="573.62" rx="510.37" ry="384.21" fill="none" stroke="#000" stroke-opacity="0.082" stroke-width="0.80" stroke-dasharray="29 149 30 127 36 53 44 103 6 37 40 104 21 42 15 74" stroke-dashoffset="646"/><ellipse cx="710.16" cy="566.40" rx="515.93" ry="388.40" fill="none" stroke="#000" stroke-opacity="0.141" stroke-width="0.68" stroke-dasharray="19 97 43 123 17 141 7 87 15 81 41 151 14 96 29 68" stroke-dashoffset="208"/><ellipse cx="737.23" cy="558.09" rx="413.59" ry="311.36" fill="none" stroke="#fff" stroke-opacity="0.105" stroke-width="0.55" stroke-dasharray="23 117 32 158 17 43 39 59 27 36 12 109 34 77 26 56" stroke-dashoffset="772"/><ellipse cx="741.00" cy="572.76" rx="506.77" ry="381.51" fill="none" stroke="#000" stroke-opacity="0.084" stroke-width="0.73" stroke-dasharray="11 97 25 107 27 153 13 99 15 83 36 106 16 44 20 131" stroke-dashoffset="110"/><ellipse cx="700.62" cy="549.31" rx="368.52" ry="277.43" fill="none" stroke="#000" stroke-opacity="0.176" stroke-width="1.31" stroke-dasharray="43 147 15 65 24 157 41 93 21 105 22 158 24 134 21 140" stroke-dashoffset="276"/><ellipse cx="718.33" cy="565.25" rx="417.51" ry="314.30" fill="none" stroke="#fff" stroke-opacity="0.085" stroke-width="0.92" stroke-dasharray="21 142 19 60 21 51 22 65 20 85 42 73 29 104 21 160" stroke-dashoffset="724"/><ellipse cx="718.95" cy="563.51" rx="491.28" ry="369.84" fill="none" stroke="#000" stroke-opacity="0.178" stroke-width="1.17" stroke-dasharray="40 119 14 89 25 102 12 148 30 76 33 33 35 148 37 129" stroke-dashoffset="550"/><ellipse cx="739.94" cy="563.94" rx="454.81" ry="342.38" fill="none" stroke="#000" stroke-opacity="0.082" stroke-width="0.90" stroke-dasharray="17 118 23 41 9 150 13 113 23 67 15 36 43 34 18 120" stroke-dashoffset="457"/><ellipse cx="722.84" cy="554.50" rx="437.71" ry="329.51" fill="none" stroke="#fff" stroke-opacity="0.087" stroke-width="0.65" stroke-dasharray="21 76 41 48 32 132 10 101 18 92 23 52 34 154 8 40" stroke-dashoffset="443"/><ellipse cx="708.68" cy="586.88" rx="418.21" ry="314.83" fill="none" stroke="#000" stroke-opacity="0.144" stroke-width="1.18" stroke-dasharray="13 113 7 157 12 57 29 36 11 99 21 145 17 70 45 110" stroke-dashoffset="331"/><ellipse cx="699.72" cy="572.46" rx="477.70" ry="359.62" fill="none" stroke="#000" stroke-opacity="0.076" stroke-width="0.67" stroke-dasharray="22 83 19 66 25 92 15 117 24 79 24 94 38 150 7 65" stroke-dashoffset="643"/><ellipse cx="697.20" cy="568.85" rx="457.81" ry="344.64" fill="none" stroke="#000" stroke-opacity="0.100" stroke-width="1.22" stroke-dasharray="30 152 45 38 20 158 18 63 27 87 16 141 16 88 40 91" stroke-dashoffset="105"/><ellipse cx="723.54" cy="582.38" rx="465.77" ry="350.64" fill="none" stroke="#000" stroke-opacity="0.069" stroke-width="1.04" stroke-dasharray="17 35 12 31 22 115 30 68 22 100 11 140 7 125 16 112" stroke-dashoffset="670"/><ellipse cx="703.69" cy="561.00" rx="418.94" ry="315.39" fill="none" stroke="#fff" stroke-opacity="0.074" stroke-width="0.66" stroke-dasharray="37 77 27 67 24 122 26 78 44 105 6 102 30 147 29 137" stroke-dashoffset="604"/><ellipse cx="708.89" cy="569.47" rx="360.00" ry="271.01" fill="none" stroke="#000" stroke-opacity="0.083" stroke-width="0.56" stroke-dasharray="22 112 7 37 45 132 44 121 29 43 37 148 31 98 37 56" stroke-dashoffset="376"/><ellipse cx="725.96" cy="557.48" rx="464.33" ry="349.55" fill="none" stroke="#fff" stroke-opacity="0.095" stroke-width="0.70" stroke-dasharray="22 141 35 81 36 78 20 63 38 64 6 84 17 83 40 71" stroke-dashoffset="673"/><ellipse cx="695.49" cy="568.42" rx="485.13" ry="365.21" fill="none" stroke="#fff" stroke-opacity="0.186" stroke-width="1.18" stroke-dasharray="42 70 37 85 36 131 30 38 27 100 18 118 42 66 27 39" stroke-dashoffset="258"/><ellipse cx="711.20" cy="554.15" rx="376.97" ry="283.79" fill="none" stroke="#000" stroke-opacity="0.164" stroke-width="1.28" stroke-dasharray="13 154 25 78 12 60 10 159 21 89 9 159 11 83 13 98" stroke-dashoffset="683"/><ellipse cx="699.89" cy="570.93" rx="472.71" ry="355.86" fill="none" stroke="#000" stroke-opacity="0.076" stroke-width="0.75" stroke-dasharray="42 93 20 135 15 149 21 155 22 58 20 113 45 77 21 79" stroke-dashoffset="23"/><ellipse cx="726.93" cy="580.20" rx="423.77" ry="319.02" fill="none" stroke="#fff" stroke-opacity="0.159" stroke-width="1.22" stroke-dasharray="39 100 23 85 31 90 31 139 41 153 30 39 10 57 20 52" stroke-dashoffset="718"/><ellipse cx="729.15" cy="563.69" rx="481.24" ry="362.28" fill="none" stroke="#000" stroke-opacity="0.120" stroke-width="0.93" stroke-dasharray="32 117 39 86 42 87 41 115 12 115 38 31 10 137 23 51" stroke-dashoffset="386"/><ellipse cx="728.32" cy="576.88" rx="458.41" ry="345.10" fill="none" stroke="#000" stroke-opacity="0.144" stroke-width="1.14" stroke-dasharray="32 116 23 148 40 49 30 87 32 53 18 132 7 100 28 76" stroke-dashoffset="350"/><ellipse cx="737.85" cy="579.39" rx="482.11" ry="362.94" fill="none" stroke="#fff" stroke-opacity="0.068" stroke-width="0.52" stroke-dasharray="31 42 29 33 15 63 16 118 22 109 16 40 23 80 17 89" stroke-dashoffset="535"/><ellipse cx="723.98" cy="554.81" rx="437.80" ry="329.58" fill="none" stroke="#000" stroke-opacity="0.106" stroke-width="1.09" stroke-dasharray="28 125 33 56 41 67 15 142 39 153 10 51 19 62 36 110" stroke-dashoffset="157"/><ellipse cx="701.50" cy="582.04" rx="461.40" ry="347.35" fill="none" stroke="#000" stroke-opacity="0.149" stroke-width="0.55" stroke-dasharray="37 31 12 84 14 132 42 103 33 145 22 158 43 131 41 92" stroke-dashoffset="488"/><ellipse cx="730.68" cy="588.58" rx="494.13" ry="371.99" fill="none" stroke="#000" stroke-opacity="0.122" stroke-width="1.17" stroke-dasharray="6 160 38 101 19 155 9 36 28 127 9 70 39 123 36 69" stroke-dashoffset="430"/><ellipse cx="712.69" cy="567.55" rx="443.51" ry="333.88" fill="none" stroke="#000" stroke-opacity="0.163" stroke-width="0.89" stroke-dasharray="30 70 18 135 29 105 44 54 8 98 32 55 39 56 26 96" stroke-dashoffset="515"/><ellipse cx="739.04" cy="590.11" rx="445.75" ry="335.56" fill="none" stroke="#fff" stroke-opacity="0.178" stroke-width="0.76" stroke-dasharray="17 156 44 116 32 88 40 128 9 122 40 139 34 129 33 76" stroke-dashoffset="765"/><ellipse cx="727.74" cy="564.10" rx="435.39" ry="327.76" fill="none" stroke="#fff" stroke-opacity="0.137" stroke-width="1.04" stroke-dasharray="20 154 14 158 7 79 39 96 40 150 15 35 41 47 36 84" stroke-dashoffset="562"/><ellipse cx="701.01" cy="591.94" rx="496.76" ry="373.97" fill="none" stroke="#fff" stroke-opacity="0.180" stroke-width="0.64" stroke-dasharray="43 125 39 100 42 39 25 124 23 78 15 78 44 153 44 128" stroke-dashoffset="69"/><ellipse cx="715.00" cy="563.63" rx="410.01" ry="308.66" fill="none" stroke="#000" stroke-opacity="0.176" stroke-width="1.07" stroke-dasharray="9 110 23 133 33 95 28 110 10 42 25 158 16 110 9 157" stroke-dashoffset="125"/><ellipse cx="741.38" cy="583.04" rx="457.86" ry="344.68" fill="none" stroke="#000" stroke-opacity="0.170" stroke-width="0.89" stroke-dasharray="26 35 28 30 36 156 22 33 31 131 17 109 25 33 15 30" stroke-dashoffset="638"/><ellipse cx="711.80" cy="581.55" rx="494.34" ry="372.15" fill="none" stroke="#fff" stroke-opacity="0.152" stroke-width="1.30" stroke-dasharray="44 155 9 120 24 45 16 93 36 104 42 85 17 146 9 63" stroke-dashoffset="134"/><ellipse cx="696.42" cy="564.27" rx="502.44" ry="378.24" fill="none" stroke="#000" stroke-opacity="0.138" stroke-width="1.20" stroke-dasharray="34 111 36 52 17 78 41 34 10 78 36 78 38 135 31 142" stroke-dashoffset="664"/><ellipse cx="739.23" cy="561.75" rx="468.30" ry="352.54" fill="none" stroke="#fff" stroke-opacity="0.131" stroke-width="0.78" stroke-dasharray="13 100 6 47 37 87 39 131 42 140 11 55 18 49 32 37" stroke-dashoffset="354"/><ellipse cx="693.99" cy="579.27" rx="483.71" ry="364.14" fill="none" stroke="#000" stroke-opacity="0.071" stroke-width="0.54" stroke-dasharray="11 93 9 49 41 119 25 83 32 152 39 160 39 142 10 99" stroke-dashoffset="704"/><ellipse cx="731.66" cy="573.22" rx="451.46" ry="339.86" fill="none" stroke="#fff" stroke-opacity="0.144" stroke-width="0.74" stroke-dasharray="27 154 13 145 43 60 42 154 12 86 33 141 15 133 30 68" stroke-dashoffset="356"/><ellipse cx="733.51" cy="573.26" rx="407.12" ry="306.48" fill="none" stroke="#fff" stroke-opacity="0.083" stroke-width="1.24" stroke-dasharray="40 78 39 110 10 60 23 144 28 115 34 128 33 42 15 61" stroke-dashoffset="170"/><ellipse cx="741.88" cy="567.99" rx="389.37" ry="293.12" fill="none" stroke="#fff" stroke-opacity="0.106" stroke-width="1.21" stroke-dasharray="17 38 16 88 33 71 12 131 24 149 21 136 35 72 31 31" stroke-dashoffset="118"/><ellipse cx="730.92" cy="560.01" rx="477.46" ry="359.44" fill="none" stroke="#000" stroke-opacity="0.077" stroke-width="1.16" stroke-dasharray="23 103 21 79 34 130 21 153 41 90 34 101 26 39 6 34" stroke-dashoffset="644"/><ellipse cx="714.06" cy="556.79" rx="435.28" ry="327.68" fill="none" stroke="#fff" stroke-opacity="0.166" stroke-width="1.24" stroke-dasharray="27 160 39 49 35 132 35 101 24 30 43 106 16 152 33 86" stroke-dashoffset="29"/><ellipse cx="707.90" cy="562.24" rx="448.37" ry="337.54" fill="none" stroke="#fff" stroke-opacity="0.104" stroke-width="0.73" stroke-dasharray="17 119 25 139 34 72 45 48 21 130 9 69 16 63 17 72" stroke-dashoffset="528"/><ellipse cx="726.82" cy="566.03" rx="372.07" ry="280.10" fill="none" stroke="#000" stroke-opacity="0.169" stroke-width="0.65" stroke-dasharray="21 40 15 88 7 153 10 112 26 144 33 141 42 80 34 149" stroke-dashoffset="542"/><ellipse cx="727.93" cy="571.99" rx="473.30" ry="356.31" fill="none" stroke="#000" stroke-opacity="0.065" stroke-width="1.09" stroke-dasharray="39 32 13 63 43 65 11 124 9 85 19 48 8 88 12 94" stroke-dashoffset="266"/><ellipse cx="695.92" cy="570.90" rx="519.67" ry="391.22" fill="none" stroke="#000" stroke-opacity="0.146" stroke-width="0.63" stroke-dasharray="35 142 8 121 42 128 11 96 37 153 7 122 27 82 28 125" stroke-dashoffset="605"/><ellipse cx="722.11" cy="564.90" rx="483.39" ry="363.90" fill="none" stroke="#000" stroke-opacity="0.129" stroke-width="1.15" stroke-dasharray="37 59 30 78 19 58 29 106 29 42 17 69 12 152 11 38" stroke-dashoffset="74"/><ellipse cx="739.42" cy="565.75" rx="471.68" ry="355.08" fill="none" stroke="#fff" stroke-opacity="0.171" stroke-width="1.19" stroke-dasharray="22 130 16 154 41 31 30 115 14 44 18 37 15 119 34 92" stroke-dashoffset="503"/><ellipse cx="736.53" cy="567.28" rx="421.39" ry="317.23" fill="none" stroke="#000" stroke-opacity="0.127" stroke-width="1.05" stroke-dasharray="44 109 7 98 38 107 23 50 14 52 32 141 16 154 27 151" stroke-dashoffset="152"/><ellipse cx="699.15" cy="585.19" rx="508.14" ry="382.54" fill="none" stroke="#fff" stroke-opacity="0.193" stroke-width="1.17" stroke-dasharray="39 107 24 108 31 145 36 91 36 111 40 98 10 32 18 130" stroke-dashoffset="684"/><ellipse cx="717.35" cy="581.26" rx="475.43" ry="357.91" fill="none" stroke="#fff" stroke-opacity="0.198" stroke-width="0.77" stroke-dasharray="36 62 42 54 17 48 44 32 38 75 28 90 31 75 19 55" stroke-dashoffset="680"/><ellipse cx="705.86" cy="581.40" rx="434.61" ry="327.18" fill="none" stroke="#fff" stroke-opacity="0.076" stroke-width="0.70" stroke-dasharray="30 40 27 136 45 124 31 63 30 110 6 39 35 110 45 146" stroke-dashoffset="638"/><ellipse cx="738.28" cy="579.38" rx="385.88" ry="290.49" fill="none" stroke="#000" stroke-opacity="0.145" stroke-width="1.34" stroke-dasharray="34 138 40 125 28 90 36 43 6 104 30 104 26 68 33 44" stroke-dashoffset="322"/><ellipse cx="699.64" cy="576.27" rx="410.67" ry="309.16" fill="none" stroke="#000" stroke-opacity="0.154" stroke-width="0.72" stroke-dasharray="35 99 39 33 22 87 41 149 17 70 41 40 44 132 26 131" stroke-dashoffset="620"/><ellipse cx="713.19" cy="583.12" rx="450.65" ry="339.26" fill="none" stroke="#fff" stroke-opacity="0.121" stroke-width="0.87" stroke-dasharray="37 85 31 136 39 103 21 63 10 31 22 149 40 30 6 65" stroke-dashoffset="25"/><ellipse cx="725.89" cy="555.65" rx="375.56" ry="282.72" fill="none" stroke="#000" stroke-opacity="0.126" stroke-width="0.68" stroke-dasharray="29 71 9 71 11 58 39 31 35 81 8 138 12 145 33 116" stroke-dashoffset="383"/><ellipse cx="698.29" cy="587.45" rx="431.60" ry="324.91" fill="none" stroke="#fff" stroke-opacity="0.189" stroke-width="0.58" stroke-dasharray="29 146 10 105 23 73 22 98 33 77 39 64 33 91 22 111" stroke-dashoffset="255"/><ellipse cx="729.33" cy="587.36" rx="413.03" ry="310.93" fill="none" stroke="#000" stroke-opacity="0.172" stroke-width="0.56" stroke-dasharray="38 154 43 129 44 43 22 145 12 40 19 80 13 31 8 80" stroke-dashoffset="796"/><ellipse cx="720.65" cy="561.43" rx="519.15" ry="390.82" fill="none" stroke="#000" stroke-opacity="0.070" stroke-width="1.35" stroke-dasharray="33 111 16 82 40 139 7 86 39 123 35 98 9 88 23 109" stroke-dashoffset="88"/><ellipse cx="716.23" cy="579.73" rx="472.01" ry="355.33" fill="none" stroke="#000" stroke-opacity="0.174" stroke-width="0.89" stroke-dasharray="41 131 20 117 11 32 38 37 29 107 44 121 10 133 43 73" stroke-dashoffset="172"/><ellipse cx="709.87" cy="584.47" rx="417.83" ry="314.55" fill="none" stroke="#fff" stroke-opacity="0.200" stroke-width="1.24" stroke-dasharray="23 49 38 79 11 80 36 121 17 155 26 133 11 58 19 99" stroke-dashoffset="520"/><ellipse cx="733.48" cy="556.98" rx="359.64" ry="270.74" fill="none" stroke="#fff" stroke-opacity="0.162" stroke-width="1.07" stroke-dasharray="39 119 19 108 21 96 7 42 29 96 9 134 27 100 21 135" stroke-dashoffset="112"/><ellipse cx="737.36" cy="591.77" rx="525.07" ry="395.28" fill="none" stroke="#fff" stroke-opacity="0.115" stroke-width="0.61" stroke-dasharray="29 73 33 78 32 36 6 154 12 146 41 87 43 154 18 126" stroke-dashoffset="521"/><ellipse cx="707.10" cy="583.40" rx="367.75" ry="276.84" fill="none" stroke="#000" stroke-opacity="0.128" stroke-width="1.30" stroke-dasharray="40 98 41 98 13 139 42 159 42 59 16 33 38 49 25 31" stroke-dashoffset="689"/><ellipse cx="706.99" cy="587.63" rx="490.15" ry="368.99" fill="none" stroke="#fff" stroke-opacity="0.163" stroke-width="0.68" stroke-dasharray="43 58 40 150 21 115 20 57 27 66 27 35 31 119 34 142" stroke-dashoffset="368"/><ellipse cx="731.34" cy="576.65" rx="388.92" ry="292.78" fill="none" stroke="#fff" stroke-opacity="0.073" stroke-width="1.24" stroke-dasharray="21 92 21 120 15 82 35 143 27 66 30 41 34 136 25 102" stroke-dashoffset="445"/><ellipse cx="714.94" cy="552.12" rx="410.71" ry="309.19" fill="none" stroke="#000" stroke-opacity="0.170" stroke-width="1.34" stroke-dasharray="20 150 6 39 28 76 14 117 20 84 44 63 25 135 40 123" stroke-dashoffset="172"/><ellipse cx="726.95" cy="585.77" rx="394.46" ry="296.95" fill="none" stroke="#000" stroke-opacity="0.099" stroke-width="0.81" stroke-dasharray="10 151 34 113 24 65 17 138 39 156 45 130 27 61 38 36" stroke-dashoffset="347"/><ellipse cx="712.76" cy="576.88" rx="375.18" ry="282.44" fill="none" stroke="#000" stroke-opacity="0.154" stroke-width="1.05" stroke-dasharray="25 32 17 30 8 60 44 108 30 137 26 94 34 38 15 94" stroke-dashoffset="111"/><ellipse cx="731.64" cy="579.69" rx="376.84" ry="283.69" fill="none" stroke="#fff" stroke-opacity="0.076" stroke-width="0.99" stroke-dasharray="26 75 14 86 8 108 8 128 40 34 43 38 24 136 39 153" stroke-dashoffset="633"/><ellipse cx="725.80" cy="566.05" rx="514.27" ry="387.15" fill="none" stroke="#fff" stroke-opacity="0.125" stroke-width="0.87" stroke-dasharray="10 142 32 144 19 109 25 87 38 160 38 122 29 108 10 87" stroke-dashoffset="345"/><ellipse cx="703.40" cy="586.08" rx="461.22" ry="347.21" fill="none" stroke="#fff" stroke-opacity="0.162" stroke-width="1.07" stroke-dasharray="27 44 43 126 40 69 14 101 14 81 21 33 13 143 29 114" stroke-dashoffset="570"/><ellipse cx="723.82" cy="564.15" rx="394.54" ry="297.01" fill="none" stroke="#000" stroke-opacity="0.146" stroke-width="1.20" stroke-dasharray="20 83 16 104 19 145 10 52 33 38 45 59 31 101 29 42" stroke-dashoffset="115"/><ellipse cx="721.34" cy="577.09" rx="441.77" ry="332.57" fill="none" stroke="#000" stroke-opacity="0.098" stroke-width="0.71" stroke-dasharray="25 103 8 119 15 46 26 77 28 76 43 146 31 61 35 58" stroke-dashoffset="458"/><ellipse cx="716.66" cy="564.27" rx="499.37" ry="375.93" fill="none" stroke="#000" stroke-opacity="0.177" stroke-width="0.81" stroke-dasharray="37 82 29 41 36 31 19 61 15 87 24 90 37 136 10 70" stroke-dashoffset="0"/><ellipse cx="717.73" cy="581.60" rx="437.63" ry="329.46" fill="none" stroke="#fff" stroke-opacity="0.107" stroke-width="1.19" stroke-dasharray="12 90 43 145 39 121 14 110 45 70 45 147 9 116 23 91" stroke-dashoffset="444"/><ellipse cx="727.72" cy="552.17" rx="417.52" ry="314.31" fill="none" stroke="#fff" stroke-opacity="0.075" stroke-width="1.00" stroke-dasharray="35 146 18 121 7 104 15 39 38 49 37 65 23 49 14 107" stroke-dashoffset="362"/><ellipse cx="699.94" cy="575.63" rx="475.62" ry="358.05" fill="none" stroke="#000" stroke-opacity="0.089" stroke-width="0.69" stroke-dasharray="13 57 10 79 20 95 27 118 10 128 13 116 31 111 16 72" stroke-dashoffset="162"/><ellipse cx="694.86" cy="567.58" rx="484.91" ry="365.04" fill="none" stroke="#000" stroke-opacity="0.123" stroke-width="1.17" stroke-dasharray="21 99 35 37 42 74 43 113 16 76 17 121 33 160 38 46" stroke-dashoffset="50"/><ellipse cx="726.90" cy="577.15" rx="456.45" ry="343.62" fill="none" stroke="#fff" stroke-opacity="0.097" stroke-width="1.20" stroke-dasharray="34 50 34 40 14 73 22 155 19 133 17 64 29 157 35 94" stroke-dashoffset="791"/><ellipse cx="703.41" cy="580.41" rx="409.59" ry="308.34" fill="none" stroke="#000" stroke-opacity="0.123" stroke-width="1.23" stroke-dasharray="27 68 42 54 38 102 18 95 20 138 18 156 29 146 24 152" stroke-dashoffset="591"/><ellipse cx="711.19" cy="581.93" rx="438.88" ry="330.39" fill="none" stroke="#fff" stroke-opacity="0.124" stroke-width="1.28" stroke-dasharray="42 160 23 120 12 154 25 66 10 100 18 148 39 82 12 80" stroke-dashoffset="583"/><ellipse cx="706.98" cy="570.58" rx="481.86" ry="362.75" fill="none" stroke="#000" stroke-opacity="0.067" stroke-width="0.60" stroke-dasharray="42 103 26 69 35 75 40 53 14 51 24 119 10 128 23 107" stroke-dashoffset="330"/><ellipse cx="710.21" cy="561.76" rx="368.46" ry="277.38" fill="none" stroke="#fff" stroke-opacity="0.142" stroke-width="1.12" stroke-dasharray="31 50 39 130 24 81 35 110 44 88 19 127 29 40 32 90" stroke-dashoffset="795"/><ellipse cx="705.04" cy="566.80" rx="525.34" ry="395.48" fill="none" stroke="#000" stroke-opacity="0.121" stroke-width="0.79" stroke-dasharray="36 143 38 153 31 159 36 105 43 156 18 74 9 78 9 138" stroke-dashoffset="237"/><ellipse cx="721.04" cy="591.33" rx="494.55" ry="372.30" fill="none" stroke="#000" stroke-opacity="0.180" stroke-width="1.34" stroke-dasharray="9 159 35 73 40 121 45 96 6 103 17 110 43 65 8 142" stroke-dashoffset="313"/><ellipse cx="729.13" cy="574.15" rx="508.28" ry="382.64" fill="none" stroke="#000" stroke-opacity="0.128" stroke-width="0.74" stroke-dasharray="42 63 37 140 23 67 31 94 21 142 35 85 9 146 9 106" stroke-dashoffset="446"/><ellipse cx="725.35" cy="557.08" rx="391.30" ry="294.58" fill="none" stroke="#000" stroke-opacity="0.147" stroke-width="1.35" stroke-dasharray="12 99 23 40 8 119 29 105 33 30 23 64 39 113 44 102" stroke-dashoffset="441"/><ellipse cx="735.61" cy="586.36" rx="477.83" ry="359.72" fill="none" stroke="#fff" stroke-opacity="0.198" stroke-width="0.98" stroke-dasharray="25 84 30 139 42 136 13 38 13 50 26 140 41 133 26 82" stroke-dashoffset="656"/><ellipse cx="737.02" cy="577.53" rx="515.60" ry="388.15" fill="none" stroke="#000" stroke-opacity="0.158" stroke-width="0.96" stroke-dasharray="29 141 43 100 10 52 38 128 9 156 23 141 6 32 45 74" stroke-dashoffset="101"/><ellipse cx="707.73" cy="576.05" rx="455.14" ry="342.63" fill="none" stroke="#000" stroke-opacity="0.149" stroke-width="1.39" stroke-dasharray="8 110 42 126 12 62 34 83 8 67 28 127 20 36 36 95" stroke-dashoffset="387"/><ellipse cx="732.99" cy="576.47" rx="487.12" ry="366.71" fill="none" stroke="#fff" stroke-opacity="0.107" stroke-width="1.17" stroke-dasharray="31 129 32 131 45 126 38 138 16 113 32 46 39 46 26 42" stroke-dashoffset="215"/><ellipse cx="722.53" cy="583.87" rx="435.70" ry="328.00" fill="none" stroke="#000" stroke-opacity="0.078" stroke-width="1.11" stroke-dasharray="23 74 29 86 28 114 8 107 27 109 9 81 15 91 15 158" stroke-dashoffset="529"/><ellipse cx="703.54" cy="567.75" rx="424.88" ry="319.85" fill="none" stroke="#fff" stroke-opacity="0.155" stroke-width="0.75" stroke-dasharray="24 94 21 134 25 61 11 65 32 72 15 55 40 89 26 58" stroke-dashoffset="501"/><ellipse cx="737.09" cy="585.35" rx="470.05" ry="353.86" fill="none" stroke="#fff" stroke-opacity="0.079" stroke-width="0.61" stroke-dasharray="20 136 18 135 29 146 23 91 44 118 17 59 9 96 44 50" stroke-dashoffset="159"/><ellipse cx="710.35" cy="563.62" rx="404.10" ry="304.21" fill="none" stroke="#fff" stroke-opacity="0.070" stroke-width="0.84" stroke-dasharray="12 128 26 119 37 47 35 59 41 142 11 159 43 122 32 42" stroke-dashoffset="751"/><ellipse cx="716.23" cy="555.16" rx="439.52" ry="330.88" fill="none" stroke="#fff" stroke-opacity="0.089" stroke-width="1.35" stroke-dasharray="42 45 28 89 14 131 34 84 28 86 35 42 33 66 27 88" stroke-dashoffset="476"/><ellipse cx="704.15" cy="569.54" rx="491.44" ry="369.96" fill="none" stroke="#000" stroke-opacity="0.173" stroke-width="0.70" stroke-dasharray="37 127 15 120 23 135 34 34 27 108 6 59 17 152 43 84" stroke-dashoffset="608"/><ellipse cx="725.18" cy="583.64" rx="456.32" ry="343.52" fill="none" stroke="#fff" stroke-opacity="0.067" stroke-width="0.95" stroke-dasharray="37 93 32 68 10 59 14 159 43 151 6 147 12 63 21 40" stroke-dashoffset="555"/>
</g>
<ellipse cx="717.32" cy="564.94" rx="364.73" ry="271.43" transform="rotate(-0.72 717.32 564.94)" fill="url(#bandg)" stroke="#2a2828" stroke-width="1.5"/>
<ellipse cx="717.11" cy="562.36" rx="336.13" ry="251.06" transform="rotate(-0.4 717.11 562.36)" fill="url(#hubg)" stroke="#181717" stroke-width="2.5"/>
<g clip-path="url(#hubclip)" filter="url(#blur4)"><ellipse cx="724.50" cy="383.70" rx="30.50" ry="23.00" fill="#000" fill-opacity="0.35"/><ellipse cx="612.00" cy="400.60" rx="29.00" ry="22.00" fill="#000" fill-opacity="0.35"/><ellipse cx="834.70" cy="405.00" rx="28.50" ry="22.50" fill="#000" fill-opacity="0.35"/><ellipse cx="526.70" cy="459.00" rx="28.50" ry="21.50" fill="#000" fill-opacity="0.35"/><ellipse cx="913.80" cy="468.60" rx="28.50" ry="22.50" fill="#000" fill-opacity="0.35"/><ellipse cx="490.00" cy="542.00" rx="30.00" ry="22.50" fill="#000" fill-opacity="0.35"/><ellipse cx="940.00" cy="553.00" rx="30.00" ry="24.00" fill="#000" fill-opacity="0.35"/><ellipse cx="510.00" cy="628.00" rx="29.25" ry="22.00" fill="#000" fill-opacity="0.35"/><ellipse cx="910.70" cy="640.80" rx="30.50" ry="21.50" fill="#000" fill-opacity="0.35"/><ellipse cx="589.00" cy="696.00" rx="29.00" ry="23.00" fill="#000" fill-opacity="0.35"/><ellipse cx="705.00" cy="722.50" rx="31.00" ry="23.00" fill="#000" fill-opacity="0.35"/><ellipse cx="823.80" cy="703.00" rx="30.00" ry="22.50" fill="#000" fill-opacity="0.35"/><ellipse cx="714.90" cy="547.00" rx="165.50" ry="124.25" fill="#000" fill-opacity="0.35"/></g>
<g clip-path="url(#hubclip)" opacity="0.18"><rect x="380" y="310" width="670" height="505" filter="url(#speck)"/></g>
<ellipse cx="733.00" cy="210.50" rx="28.50" ry="22.00" fill="#151515"/><ellipse cx="819.00" cy="243.00" rx="29.00" ry="20.00" fill="#151515"/><ellipse cx="646.50" cy="249.60" rx="27.50" ry="19.00" fill="#151515"/><ellipse cx="553.00" cy="251.70" rx="30.00" ry="22.00" fill="#151515"/><ellipse cx="891.60" cy="286.00" rx="27.50" ry="19.50" fill="#151515"/><ellipse cx="988.00" cy="292.00" rx="28.00" ry="19.50" fill="#151515"/><ellipse cx="492.70" cy="307.00" rx="30.00" ry="21.00" fill="#151515"/><ellipse cx="405.50" cy="329.70" rx="30.50" ry="21.00" fill="#151515"/><ellipse cx="319.50" cy="368.50" rx="31.50" ry="23.50" fill="#151515"/><ellipse cx="1037.70" cy="350.80" rx="26.50" ry="18.50" fill="#151515"/><ellipse cx="1135.00" cy="384.40" rx="31.00" ry="21.20" fill="#151515"/><ellipse cx="316.50" cy="443.50" rx="28.00" ry="20.00" fill="#151515"/><ellipse cx="1143.70" cy="460.00" rx="27.50" ry="20.50" fill="#151515"/><ellipse cx="264.40" cy="507.50" rx="31.50" ry="23.00" fill="#151515"/><ellipse cx="1132.60" cy="529.00" rx="29.00" ry="21.00" fill="#151515"/><ellipse cx="298.80" cy="576.30" rx="35.00" ry="24.25" fill="#151515"/><ellipse cx="1178.70" cy="599.50" rx="30.50" ry="23.00" fill="#151515"/><ellipse cx="276.50" cy="648.30" rx="33.00" ry="25.00" fill="#151515"/><ellipse cx="1129.60" cy="665.40" rx="28.50" ry="21.00" fill="#151515"/><ellipse cx="276.00" cy="730.00" rx="33.00" ry="25.50" fill="#151515"/><ellipse cx="1142.50" cy="749.75" rx="31.30" ry="25.00" fill="#151515"/><ellipse cx="368.00" cy="768.00" rx="30.00" ry="22.50" fill="#151515"/><ellipse cx="1057.40" cy="795.00" rx="33.50" ry="24.50" fill="#151515"/><ellipse cx="418.80" cy="838.30" rx="34.00" ry="26.00" fill="#151515"/><ellipse cx="964.00" cy="822.60" rx="32.50" ry="24.50" fill="#151515"/><ellipse cx="524.80" cy="848.20" rx="33.00" ry="26.00" fill="#151515"/><ellipse cx="602.30" cy="900.00" rx="33.00" ry="26.00" fill="#151515"/><ellipse cx="791.60" cy="890.40" rx="29.50" ry="22.50" fill="#151515"/><ellipse cx="902.30" cy="889.80" rx="31.50" ry="25.00" fill="#151515"/><ellipse cx="700.30" cy="941.00" rx="33.50" ry="28.50" fill="#151515"/><ellipse cx="724.50" cy="388.70" rx="28.50" ry="21.00" fill="#151515"/><ellipse cx="612.00" cy="405.60" rx="27.00" ry="20.00" fill="#151515"/><ellipse cx="834.70" cy="410.00" rx="26.50" ry="20.50" fill="#151515"/><ellipse cx="526.70" cy="464.00" rx="26.50" ry="19.50" fill="#151515"/><ellipse cx="913.80" cy="473.60" rx="26.50" ry="20.50" fill="#151515"/><ellipse cx="490.00" cy="547.00" rx="28.00" ry="20.50" fill="#151515"/><ellipse cx="940.00" cy="558.00" rx="28.00" ry="22.00" fill="#151515"/><ellipse cx="510.00" cy="633.00" rx="27.25" ry="20.00" fill="#151515"/><ellipse cx="910.70" cy="645.80" rx="28.50" ry="19.50" fill="#151515"/><ellipse cx="589.00" cy="701.00" rx="27.00" ry="21.00" fill="#151515"/><ellipse cx="705.00" cy="727.50" rx="29.00" ry="21.00" fill="#151515"/><ellipse cx="823.80" cy="708.00" rx="28.00" ry="20.50" fill="#151515"/><ellipse cx="714.90" cy="555.00" rx="163.50" ry="120.25" fill="#1c1b1b"/>
<polygon points="304,343 316,345.5 300,350 290,360 287,373 279,368.5" fill="#1a1818"/><polygon points="1140,363.5 1154.5,362.5 1168.5,384.5 1166,393 1160,372" fill="#1a1818"/><polygon points="1162,738 1176,742 1192,743 1180,768 1166,778" fill="#1a1818"/><polygon points="676,958 724,958 730,973 670,973" fill="#1a1818"/><polygon points="248,715 238,725 233,735 250,760 262,770 252,740" fill="#1a1818"/>
</g>
<g stroke="#1d5f73" stroke-width="4" fill="none">
<line x1="188.5" y1="0" x2="188.5" y2="610"/><line x1="1243.5" y1="0" x2="1243.5" y2="610"/><line x1="186.5" y1="65.5" x2="1245.5" y2="65.5"/><line x1="484" y1="102" x2="484" y2="553"/><line x1="936.7" y1="102" x2="936.7" y2="553"/><line x1="482" y1="163.5" x2="938.7" y2="163.5"/><line x1="555" y1="560.5" x2="876" y2="560.5"/><line x1="555" y1="539.5" x2="555" y2="585"/><line x1="876" y1="539.5" x2="876" y2="585"/><line x1="274.8" y1="738" x2="184.9" y2="897.6"/><line x1="699.5" y1="945.4" x2="596" y2="1127"/><line x1="216.2" y1="848" x2="620.8" y2="1077.6"/><line x1="704.2" y1="729.2" x2="796.1" y2="1096.9"/><line x1="822" y1="706.4" x2="916.3" y2="1077.4"/><line x1="783.5" y1="1040.7" x2="901.1" y2="1021.7"/>
</g>
<g transform="translate(576.70,46.60) rotate(0)"><text x="-3.71" y="0" font-size="48.7" letter-spacing="0.6" font-family="Liberation Sans, sans-serif" fill="#111" stroke="#fff" stroke-width="0.4">158mm/6.22</text><path d="M278.04 -25.80L282.24 -36.00 M290.34 -25.80L294.54 -36.00" stroke="#111" stroke-width="2.80" fill="none"/></g><g transform="translate(579.00,144.60) rotate(0)"><text x="-2.47" y="0" font-size="48.7" letter-spacing="0.6" font-family="Liberation Sans, sans-serif" fill="#111" stroke="#fff" stroke-width="0.4">65mm/2.55</text><path d="M252.00 -25.80L256.20 -36.00 M264.30 -25.80L268.50 -36.00" stroke="#111" stroke-width="2.80" fill="none"/></g><g transform="translate(577.70,544.70) rotate(0)"><text x="-1.12" y="0" font-size="48.7" letter-spacing="0.6" font-family="Liberation Sans, sans-serif" fill="#111" stroke="#fff" stroke-width="0.4">48mm/1.88</text><path d="M253.28 -25.80L257.48 -36.00 M265.58 -25.80L269.78 -36.00" stroke="#111" stroke-width="2.80" fill="none"/></g><g transform="translate(275.00,931.50) rotate(29.6)"><text x="-2.50" y="0" font-size="48.7" letter-spacing="0.6" font-family="Liberation Sans, sans-serif" fill="#111" stroke="#eeeeee" stroke-width="0.4">72mm/2.83</text><path d="M251.88 -25.80L256.08 -36.00 M264.18 -25.80L268.38 -36.00" stroke="#111" stroke-width="2.80" fill="none"/></g><g transform="translate(753.25,1150.60) rotate(-8.3)"><text x="-3.71" y="0" font-size="48.7" letter-spacing="0.6" font-family="Liberation Sans, sans-serif" fill="#111" stroke="#eeeeee" stroke-width="0.4">18mm/0.70</text><path d="M250.91 -25.80L255.11 -36.00 M263.21 -25.80L267.41 -36.00" stroke="#111" stroke-width="2.80" fill="none"/></g><g transform="translate(42.20,1259.20) rotate(0)"><text x="-1.80" y="0" font-size="38" letter-spacing="0.77" font-family="Liberation Sans, sans-serif" fill="#1e1e1e" stroke="#eeeeee" stroke-width="0.25">Outer diameter:160mm/2.29"</text></g><g transform="translate(43.90,1298.20) rotate(0)"><text x="-3.51" y="0" font-size="38" letter-spacing="0.77" font-family="Liberation Sans, sans-serif" fill="#1e1e1e" stroke="#eeeeee" stroke-width="0.25">Inner diameter:48mm/1.88"</text></g><g transform="translate(42.90,1337.20) rotate(0)"><text x="-2.54" y="0" font-size="38" letter-spacing="0.77" font-family="Liberation Sans, sans-serif" fill="#1e1e1e" stroke="#eeeeee" stroke-width="0.25">installation pitch:68mm/2.67"</text></g>
</svg></body></html>
